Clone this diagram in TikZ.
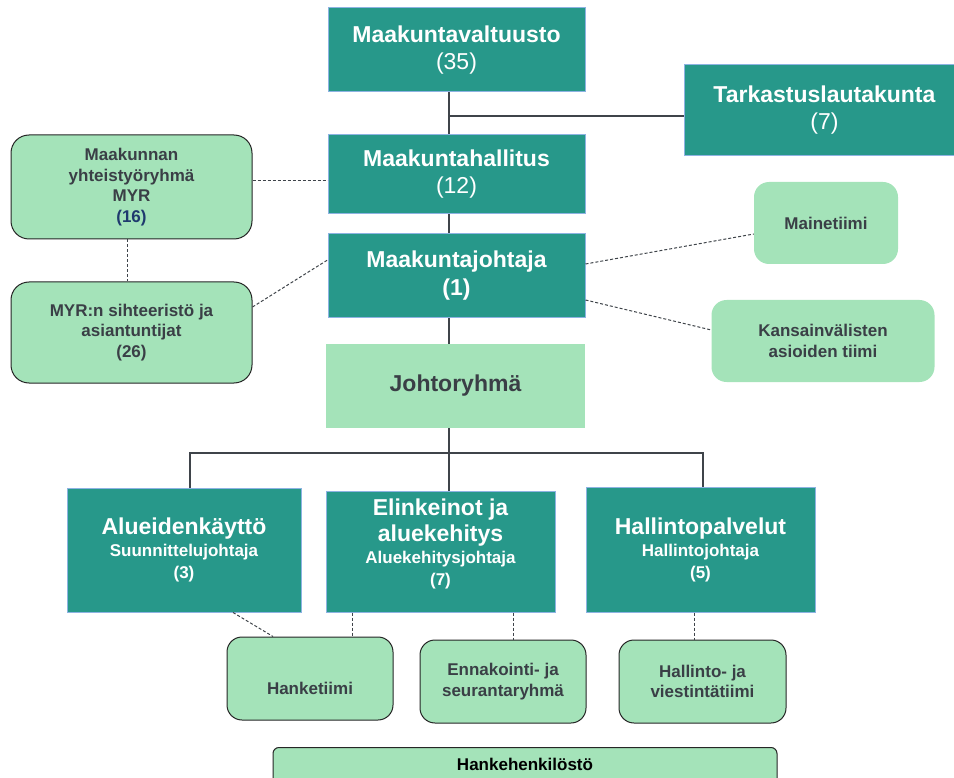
\documentclass[tikz,border=0pt]{standalone}
\usepackage{fontspec}
\setmainfont{Liberation Sans}
\definecolor{tdark}{HTML}{27988A}
\definecolor{lgreen}{HTML}{A4E3B9}
\definecolor{tgrey}{HTML}{3A3F46}
\definecolor{bblue}{HTML}{8DB3E2}
\definecolor{mynavy}{HTML}{1F3A6E}
\definecolor{lnc}{HTML}{3F444A}
\tikzset{
 darkbox/.style={draw=bblue, line width=1pt, fill=tdark, text=white, align=center, inner sep=0pt, font=\fontsize{23}{27}\selectfont},
 unitbox/.style={darkbox, font=\fontsize{17}{22}\selectfont\bfseries},
 lightbox/.style={draw=black!85, line width=1pt, fill=lgreen, rounded corners=15pt, text=tgrey, align=center, inner sep=0pt, font=\fontsize{17}{20.5}\selectfont\bfseries},
 softbox/.style={fill=lgreen, rounded corners=15pt, text=tgrey, align=center, inner sep=0pt, font=\fontsize{17}{20.5}\selectfont\bfseries},
 boxtext/.style={text=tgrey, align=center, inner sep=0pt, font=\fontsize{17}{20.5}\selectfont\bfseries},
 solidline/.style={draw=lnc, line width=1.3pt},
 dashline/.style={draw=lnc, line width=1pt, dash pattern=on 3pt off 2pt},
}
\begin{document}
\begin{tikzpicture}[x=1pt,y=-1pt]
\useasboundingbox (0,0) rectangle (954,778);
\clip (0,0) rectangle (954,778);
% top hierarchy
\node[darkbox, minimum width=257pt, minimum height=84pt] (mv) at (456.5,50) {\textbf{Maakuntavaltuusto}\\(35)};
\node[darkbox, minimum width=281pt, minimum height=91pt] (tk) at (824.5,110.5) {\textbf{Tarkastuslautakunta}\\(7)};
\node[darkbox, minimum width=257pt, minimum height=79pt] (mh) at (456.5,174.5) {\textbf{Maakuntahallitus}\\(12)};
\node[darkbox, minimum width=257pt, minimum height=84pt, font=\fontsize{23}{28}\selectfont\bfseries] (mj) at (456.5,276) {Maakuntajohtaja\\(1)};
\node[softbox, rounded corners=0pt, minimum width=259pt, minimum height=84pt, font=\fontsize{23}{27}\selectfont\bfseries] (jr) at (455.5,386) {Johtoryhmä};
% left side
\node[lightbox, rounded corners=18pt, minimum width=241pt, minimum height=104pt] (my) at (131.5,187) {Maakunnan\\yhteistyöryhmä\\MYR\\\textcolor{mynavy}{(16)}};
\node[lightbox, rounded corners=18pt, minimum width=241pt, minimum height=101pt] (myr) at (131.5,332.5) {MYR:n sihteeristö ja\\asiantuntijat\\(26)};
% right side
\node[softbox, minimum width=144pt, minimum height=82pt] (mt) at (826,223) {Mainetiimi};
\node[softbox, minimum width=223pt, minimum height=82pt] (ks) at (823,341) {Kansainvälisten\\asioiden tiimi};
% units
\node[unitbox, minimum width=234pt, minimum height=124pt] (al) at (184,550) {{\fontsize{23}{22}\selectfont Alueidenkäyttö}\\Suunnittelujohtaja\\(3)};
\node[unitbox, minimum width=229pt, minimum height=121pt, text depth=18pt] (el) at (440.5,551.5) {{\fontsize{23}{22}\selectfont Elinkeinot ja}\\[4pt]{\fontsize{23}{22}\selectfont aluekehitys}\\Aluekehitysjohtaja\\(7)};
\node[unitbox, minimum width=229pt, minimum height=125pt] (hp) at (700.5,549.5) {{\fontsize{23}{22}\selectfont Hallintopalvelut}\\Hallintojohtaja\\(5)};
% teams
\node[lightbox, minimum width=166pt, minimum height=83pt] (ht) at (310,678.5) {};
\node[boxtext] (htt) at ([yshift=-10pt]ht.center) {Hanketiimi};
\node[lightbox, minimum width=166pt, minimum height=83pt] (en) at (503,681.5) {Ennakointi- ja\\seurantaryhmä};
\node[lightbox, minimum width=167pt, minimum height=83pt] (hv) at (702.5,681.5) {Hallinto- ja\\viestintätiimi};
\node[lightbox, rounded corners=6pt, minimum width=504pt, minimum height=60pt, anchor=north] (hk) at (525,747) {};
\node[boxtext, text=black] (hkt) at (525,764) {Hankehenkilöstö};
% solid connectors
\coordinate (sp) at (449,0);
\coordinate (tj) at (449,116);
\coordinate (bus) at (449,453);
\coordinate (bl) at (190,453);
\coordinate (br) at (703,453);
\draw[solidline] (mv.south -| sp) -- (mh.north -| sp);
\draw[solidline] (tj) -- (tj -| tk.west);
\draw[solidline] (mh.south -| sp) -- (mj.north -| sp);
\draw[solidline] (mj.south -| sp) -- (jr.north -| sp);
\draw[solidline] (jr.south -| sp) -- (bus);
\draw[solidline] (bl |- al.north) -- (bl) -- (br) -- (br |- hp.north);
\draw[solidline] (bus) -- (bus |- el.north);
% dashed connectors
\draw[dashline] ([yshift=6pt]my.east) -- ([yshift=6pt]my.east -| mh.west);
\draw[dashline] ([xshift=-4pt]my.south) -- ([xshift=-4pt]myr.north);
\draw[dashline] ([yshift=25.5pt]myr.east) -- ([yshift=16pt]mj.west);
\draw[dashline] ([yshift=12pt]mj.east) -- ([yshift=-11pt]mt.west);
\draw[dashline] ([yshift=-24pt]mj.east) -- ([yshift=11pt]ks.west);
\draw[dashline] ([xshift=49pt]al.south) -- ([xshift=-37pt]ht.north);
\draw[dashline] ([xshift=-88.5pt]el.south) -- ([xshift=-88.5pt]el.south |- ht.north);
\draw[dashline] ([xshift=72.5pt]el.south) -- ([xshift=72.5pt]el.south |- en.north);
\draw[dashline] ([xshift=-6.5pt]hp.south) -- ([xshift=-6.5pt]hp.south |- hv.north);
\end{tikzpicture}
\end{document}
